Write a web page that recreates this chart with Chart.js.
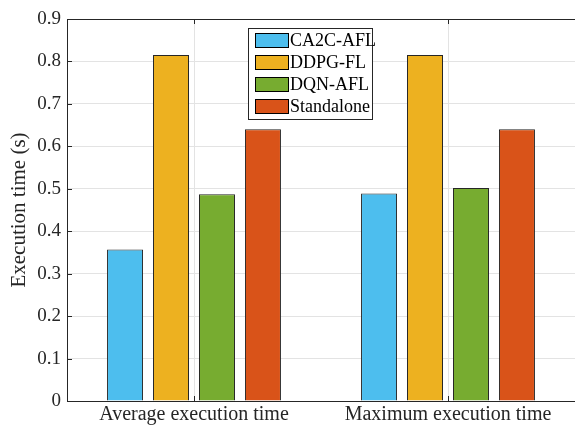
<!DOCTYPE html>
<html>
<head>
    <title>Execution time</title>
    <script src="https://cdn.jsdelivr.net/npm/chart.js"></script>
    <style>
      body { margin: 0; background: #fff; }
    </style>
</head>
<body>
<canvas id="execChart" width="575" height="428"></canvas>

<script>
    // data
    const categories = ['Average execution time', 'Maximum execution time'];
    const seriesNames = ['CA2C-AFL', 'DDPG-FL', 'DQN-AFL', 'Standalone'];
    const ca2c = [0.357, 0.489];
    const ddpg = [0.815, 0.815];
    const dqn = [0.487, 0.502];
    const standalone = [0.640, 0.640];
    const yTicks = [0, 0.1, 0.2, 0.3, 0.4, 0.5, 0.6, 0.7, 0.8, 0.9];

    const colors = ['#4DBEEE', '#EDB120', '#77AC30', '#D95319'];
    const font = "'Liberation Serif', 'Times New Roman', serif";

    // box on top, inner tick marks and the legend inside the plot
    const framePlugin = {
      id: 'frame',
      afterDraw(chart) {
        const ctx = chart.ctx;
        const a = chart.chartArea;
        const x = chart.scales.x;
        const y = chart.scales.y;
        ctx.save();
        ctx.strokeStyle = '#262626';
        ctx.lineWidth = 1;
        ctx.beginPath();
        ctx.moveTo(a.left, a.top + 0.5);
        ctx.lineTo(a.right, a.top + 0.5);
        categories.forEach((c, i) => {
          const px = Math.round(x.getPixelForValue(i)) + 0.5;
          ctx.moveTo(px, a.top); ctx.lineTo(px, a.top + 5);
          ctx.moveTo(px, a.bottom); ctx.lineTo(px, a.bottom - 5);
        });
        yTicks.forEach(v => {
          const py = Math.round(y.getPixelForValue(v)) + 0.5;
          ctx.moveTo(a.left, py); ctx.lineTo(a.left + 5, py);
        });
        ctx.stroke();

        // legend
        const lx = 248, ly = 28, lw = 124, lh = 91;
        ctx.fillStyle = '#fff';
        ctx.fillRect(lx, ly, lw, lh);
        ctx.strokeStyle = '#262626';
        ctx.strokeRect(lx + 0.5, ly + 0.5, lw, lh);
        ctx.font = '18px ' + font;
        ctx.textBaseline = 'middle';
        chart.data.datasets.forEach((ds, i) => {
          const ry = ly + 5 + i * 22;
          ctx.fillStyle = ds.backgroundColor;
          ctx.fillRect(255, ry, 33, 14);
          ctx.strokeStyle = '#000';
          ctx.strokeRect(255.5, ry + 0.5, 33, 14);
          ctx.fillStyle = '#000';
          ctx.fillText(ds.label, 290, ry + 8);
        });
        ctx.restore();
      }
    };

    const seriesValues = [ca2c, ddpg, dqn, standalone];

    new Chart(document.getElementById('execChart').getContext('2d'), {
      type: 'bar',
      data: {
        labels: categories,
        datasets: seriesNames.map((name, i) => ({
          label: name,
          data: seriesValues[i],
          backgroundColor: colors[i],
          borderColor: '#262626',
          borderWidth: 1,
          categoryPercentage: 0.724,
          barPercentage: 0.783
        }))
      },
      options: {
        responsive: false,
        animation: false,
        layout: { padding: { top: 19, right: 0, left: 0, bottom: 0 } },
        plugins: {
          legend: { display: false },
          tooltip: { enabled: false }
        },
        scales: {
          x: {
            grid: { offset: false, color: '#e3e3e3', drawTicks: false },
            border: { color: '#262626', width: 1 },
            ticks: { color: '#262626', font: { family: font, size: 20 }, padding: 2 },
            afterFit(s) { s.height = 27; }
          },
          y: {
            min: 0,
            max: 0.9,
            afterBuildTicks(s) { s.ticks = yTicks.map(v => ({ value: v })); },
            grid: { color: '#e3e3e3', drawTicks: false },
            border: { color: '#262626', width: 1 },
            ticks: {
              color: '#262626',
              font: { family: font, size: 19 },
              padding: 6,
              callback: v => String(Math.round(v * 10) / 10)
            },
            title: {
              display: true,
              text: 'Execution time (s)',
              color: '#262626',
              font: { family: font, size: 21 },
              padding: { top: 7, bottom: 0 }
            },
            afterFit(s) { s.width = 67; }
          }
        }
      },
      plugins: [framePlugin]
    });
</script>
</body>
</html>
